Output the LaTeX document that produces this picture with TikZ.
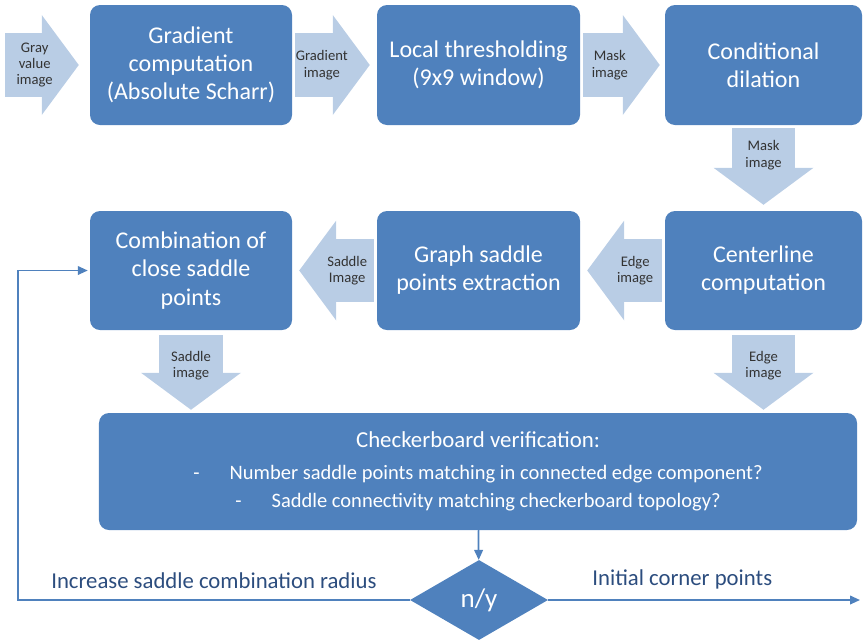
\documentclass[tikz,border=0pt]{standalone}
\usepackage{fontspec}
\setmainfont{Carlito}
\usetikzlibrary{arrows.meta,shapes.geometric}
\definecolor{boxblue}{HTML}{4F81BD}
\definecolor{arrowblue}{HTML}{B9CDE5}
\definecolor{noteblue}{HTML}{2C4D7E}
\begin{document}
\begin{tikzpicture}[x=0.3mm, y=-0.3mm,
    box/.style={fill=boxblue, rounded corners=3mm, text=white, align=center,
      inner sep=0pt, font=\fontsize{20.5}{24}\selectfont},
    flow/.style={draw=arrowblue, line width=19mm,
      -{Triangle[length=11.1mm, width=30mm, line width=0pt]}},
    flowtext/.style={text=black!80, align=center, inner sep=0pt,
      font=\fontsize{12.5}{14}\selectfont},
    link/.style={draw=boxblue, line width=1.5pt, -{Triangle[length=3mm, width=2.6mm]}},
    note/.style={text=noteblue, inner sep=0pt, font=\fontsize{19.4}{22}\selectfont}]
    \useasboundingbox (0,0) rectangle (863,640);

    \node[box, minimum width=60.6mm, minimum height=36mm] (0) at (191,65) {Gradient\\computation\\(Absolute Scharr)};
    \node[box, minimum width=60.9mm, minimum height=36mm] (1) at (478.5,65) {Local thresholding\\(9x9 window)};
    \node[box, minimum width=59.1mm, minimum height=36mm] (2) at (763.5,65) {Conditional\\dilation};
    \node[box, minimum width=59.1mm, minimum height=35.7mm] (3) at (763.5,270.5) {Centerline\\computation};
    \node[box, minimum width=60.9mm, minimum height=35.7mm] (4) at (478.5,270.5) {Graph saddle\\points extraction};
    \node[box, minimum width=60.6mm, minimum height=35.7mm] (5) at (191,270.5) {Combination of\\close saddle\\points};
    \node[box, minimum width=227.4mm, minimum height=35.1mm, font=\fontsize{17.5}{20}\selectfont] (7) at (478,471.5)
      {{\fontsize{19.5}{22}\selectfont Checkerboard verification:}\\[2.4mm]
       -\hspace{9mm}Number saddle points matching in connected edge component?\\[1.6mm]
       -\hspace{9mm}Saddle connectivity matching checkerboard topology?};
    \node[diamond, fill=boxblue, text=white, inner sep=0pt, minimum width=41.4mm, minimum height=24mm,
      font=\fontsize{23}{26}\selectfont] (6) at (479,600) {n/y};

    \coordinate (8) at (5,65);
    \coordinate (9) at (18,600); % coin du retour
    \coordinate (10) at (860,600);

    \draw[flow, shorten >=3.3mm] (8) -- node[flowtext, pos=0.35] {Gray\\value\\image} (0.west);
    \draw[flow, shorten <=0.9mm, shorten >=2.1mm] (0) -- node[flowtext, pos=0.35] {Gradient\\image} (1);
    \draw[flow, shorten <=0.9mm, shorten >=1.5mm] (1) -- node[flowtext, pos=0.35] {Mask\\image} (2);
    \draw[flow, shorten <=0.9mm, shorten >=1.8mm] (2) -- node[flowtext, pos=0.35] {Mask\\image} (3);
    \draw[flow, shorten <=0.9mm, shorten >=2.1mm] (3) -- node[flowtext, pos=0.35] {Edge\\image} (4);
    \draw[flow, shorten <=0.9mm, shorten >=2.1mm] (4) -- node[flowtext, pos=0.35] {Saddle\\Image} (5);
    \draw[flow, shorten <=1.5mm, shorten >=0.9mm] (5.south) -- node[flowtext, pos=0.43] {Saddle\\image} (5.south |- 7.north);
    \draw[flow, shorten <=1.5mm, shorten >=0.9mm] (3.south) -- node[flowtext, pos=0.43] {Edge\\image} (3.south |- 7.north);

    \draw[link] (7) -- (6);
    \draw[link, shorten >=0.6mm] (6.west) -- node[note, above=3mm] {Increase saddle combination radius} (9) |- (5.west);
    \draw[link] (6.east) -- node[note, above=3mm, pos=0.43] {Initial corner points} (10);
\end{tikzpicture}
\end{document}
